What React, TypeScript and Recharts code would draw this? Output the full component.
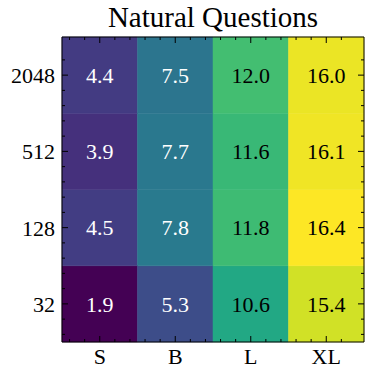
import React from 'react';
import { ComposedChart, Scatter, XAxis, YAxis, ReferenceArea } from 'recharts';

// model sizes along x, context lengths along y (bottom to top)
const models = ['S', 'B', 'L', 'XL'];
const contexts = ['32', '128', '512', '2048'];

// scores per model, ordered like contexts
const scoresS = [1.9, 4.5, 3.9, 4.4];
const scoresB = [5.3, 7.8, 7.7, 7.5];
const scoresL = [10.6, 11.8, 11.6, 12.0];
const scoresXL = [15.4, 16.4, 16.1, 16.0];

const scoreRows = [scoresS, scoresB, scoresL, scoresXL];

const FONT = "'Liberation Serif', 'Times New Roman', 'DejaVu Serif', serif";

// matplotlib viridis, 11 stops
const VIRIDIS = [
  '#440154', '#482475', '#414487', '#355f8d', '#2a788e', '#21918c',
  '#22a884', '#44bf70', '#7ad151', '#bddf26', '#fde725',
];

function hexToRgb(h: string) {
  return [1, 3, 5].map(i => parseInt(h.slice(i, i + 2), 16));
}

function viridis(t: number) {
  const c = Math.max(0, Math.min(1, t)) * (VIRIDIS.length - 1);
  const i = Math.min(Math.floor(c), VIRIDIS.length - 2);
  const f = c - i;
  const a = hexToRgb(VIRIDIS[i]);
  const b = hexToRgb(VIRIDIS[i + 1]);
  const m = a.map((v, k) => Math.round(v + (b[k] - v) * f));
  return `rgb(${m[0]},${m[1]},${m[2]})`;
}

const allScores = scoreRows.flat();
const vmin = Math.min(...allScores);
const vmax = Math.max(...allScores);

const cells = scoreRows.flatMap((col, xi) =>
  col.map((v, yi) => ({ x: xi, y: yi, value: v }))
);

// major ticks at cell centres, minor every 0.2
const ticks = Array.from({ length: 19 }, (_, i) => Math.round((-0.4 + i * 0.2) * 10) / 10);
const majorTicks = [0, 1, 2, 3];
const isMajor = (v: number) => Math.abs(v - Math.round(v)) < 1e-6;

const MAJOR = 6;
const MINOR = 3;
const txt = { fontFamily: FONT, fontSize: 22 };
const domain: [number, number] = [-0.5, 3.5];

const BottomTick = (props: any) => {
  const { x, y, payload } = props;
  const len = isMajor(payload.value) ? MAJOR : MINOR;
  return <line x1={x} x2={x} y1={y} y2={y - len} stroke="#000" strokeWidth={1} />;
};
const TopTick = (props: any) => {
  const { x, y, payload } = props;
  const len = isMajor(payload.value) ? MAJOR : MINOR;
  return <line x1={x} x2={x} y1={y} y2={y + len} stroke="#000" strokeWidth={1} />;
};
const LeftTick = (props: any) => {
  const { x, y, payload } = props;
  const len = isMajor(payload.value) ? MAJOR : MINOR;
  return <line x1={x} x2={x + len} y1={y} y2={y} stroke="#000" strokeWidth={1} />;
};
const RightTick = (props: any) => {
  const { x, y, payload } = props;
  const len = isMajor(payload.value) ? MAJOR : MINOR;
  return <line x1={x} x2={x - len} y1={y} y2={y} stroke="#000" strokeWidth={1} />;
};

const BottomLabel = (props: any) => {
  const { x, y, payload } = props;
  return (
    <text x={x} y={y + 22} textAnchor="middle" fill="#000" style={txt}>
      {models[Math.round(payload.value)]}
    </text>
  );
};
const LeftLabel = (props: any) => {
  const { x, y, payload } = props;
  return (
    <text x={x - 7} y={y + 8} textAnchor="end" fill="#000" style={txt}>
      {contexts[Math.round(payload.value)]}
    </text>
  );
};

const axisCommon = {
  type: 'number' as const,
  domain,
  allowDataOverflow: true,
  interval: 0 as const,
  tickSize: 0,
  tickMargin: 0,
  tickLine: false,
};

// overlay holding the frame and inward ticks, drawn above the cells
function Frame() {
  return (
    <ComposedChart width={373} height={377} margin={{ top: 36, right: 8, bottom: 0, left: 0 }}>
      <Scatter data={cells} dataKey="y" isAnimationActive={false} shape={() => <g />} />
      <Scatter data={cells} dataKey="y" xAxisId="top" yAxisId="right" isAnimationActive={false} shape={() => <g />} />
      <XAxis {...axisCommon} dataKey="x" ticks={ticks} height={35} axisLine={{ stroke: '#000' }} tick={<BottomTick />} />
      <XAxis {...axisCommon} dataKey="x" xAxisId="top" orientation="top" ticks={ticks} height={1} axisLine={{ stroke: '#000' }} tick={<TopTick />} />
      <YAxis {...axisCommon} dataKey="y" ticks={ticks} width={62} axisLine={{ stroke: '#000' }} tick={<LeftTick />} />
      <YAxis {...axisCommon} dataKey="y" yAxisId="right" orientation="right" ticks={ticks} width={1} axisLine={{ stroke: '#000' }} tick={<RightTick />} />
    </ComposedChart>
  );
}

export default function App() {
  return (
    <div style={{ position: 'absolute', left: 0, top: 0, width: 373, height: 377, background: '#fff' }}>
      <div
        style={{
          position: 'absolute',
          left: 62,
          width: 302,
          top: 0,
          textAlign: 'center',
          fontFamily: FONT,
          fontSize: 29,
          lineHeight: '34px',
          color: '#000',
        }}
      >
        Natural Questions
      </div>
      <div style={{ position: 'absolute', left: 0, top: 0 }}>
        <ComposedChart width={373} height={377} margin={{ top: 37, right: 9, bottom: 0, left: 0 }}>
          <Scatter data={cells} dataKey="y" isAnimationActive={false} shape={() => <g />} />
          {cells.map(c => {
            const t = (c.value - vmin) / (vmax - vmin);
            return (
              <ReferenceArea
                key={`${c.x}-${c.y}`}
                x1={c.x - 0.5}
                x2={c.x + 0.5}
                y1={c.y - 0.5}
                y2={c.y + 0.5}
                fill={viridis(t)}
                fillOpacity={1}
                stroke={viridis(t)}
                strokeWidth={0.5}
                label={{
                  value: c.value.toFixed(1),
                  position: 'center',
                  fill: t < 0.5 ? '#fff' : '#000',
                  fontSize: 22,
                  fontFamily: FONT,
                  style: txt,
                }}
              />
            );
          })}
          <XAxis {...axisCommon} dataKey="x" ticks={majorTicks} height={35} axisLine={false} tick={<BottomLabel />} />
          <YAxis {...axisCommon} dataKey="y" ticks={majorTicks} width={62} axisLine={false} tick={<LeftLabel />} />
        </ComposedChart>
      </div>
      <div style={{ position: 'absolute', left: 0, top: 0, pointerEvents: 'none' }}>
        <Frame />
      </div>
    </div>
  );
}
